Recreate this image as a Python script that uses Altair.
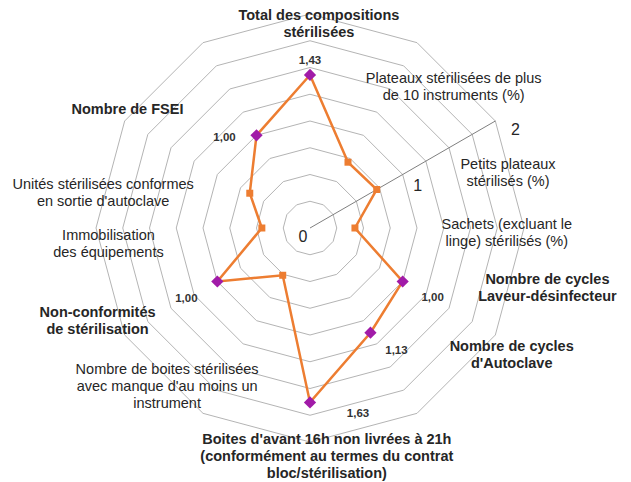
import math
import altair as alt
import pandas as pd

# ---------------- data ----------------
categories = [
    "Total des compositions\nstérilisées",
    "Plateaux stérilisées de plus\nde 10 instruments (%)",
    "Petits plateaux\nstérilisés (%)",
    "Sachets (excluant le\nlinge) stérilisés (%)",
    "Nombre de cycles\nLaveur-désinfecteur",
    "Nombre de cycles\nd'Autoclave",
    "Boites d'avant 16h non livrées à 21h\n(conformément au termes du contrat\nbloc/stérilisation)",
    "Nombre de boites stérilisées\navec manque d'au moins un\ninstrument",
    "Non-conformités\nde stérilisation",
    "Immobilisation\ndes équipements",
    "Unités stérilisées conformes\nen sortie d'autoclave",
    "Nombre de FSEI",
]
values = [1.43, 0.71, 0.72, 0.42, 1.00, 1.13, 1.63, 0.51, 1.00, 0.45, 0.65, 1.00]
highlighted = [True, False, False, False, True, True, True, False, True, False, False, True]
value_labels = ["1,43", "", "", "", "1,00", "1,13", "1,63", "", "1,00", "", "", "1,00"]
grid_levels = [0.25, 0.5, 0.75, 1.0, 1.25, 1.5, 1.75, 2.0]
tick_values = [0, 1, 2]
tick_labels = ["0", "1", "2"]

# ---------------- layout ----------------
W, H = 615, 474
CX, CY = 302, 220          # centre of the radar in chart pixels
PX = 107.0                 # pixels per unit
AXIS_ANGLE = 60            # direction of the drawn value axis (deg, clockwise from top)
LINE_H = 17
label_r = [1.90, 1.88, 1.92, 1.84, 2.29, 2.23, 2.15, 2.00, 2.17, 1.89, 1.96, 2.03]
label_angle = [2.5, 45.6, 74.5, 91.5, 104.3, 122.3, 175.8, 221.9, 246.2, 265.3, 279.5, 302.8]
vlabel_dx = [0, 0, 0, 0, 30, 26, 48, 0, -31, 0, 0, -32]
vlabel_dy = [-14, 0, 0, 0, 16, 18, 12, 0, 17, 0, 0, 3]
tick_dx = [-7, 15, 20]
tick_dy = [9, 11, 9]

ORANGE = "#ED7D31"
PURPLE = "#A11BA8"
GRID = "#B4B4B4"
AXIS = "#7F7F7F"
TEXT = "#262626"
FONT = "Liberation Sans"

n = len(categories)
step = 360.0 / n


def pol(r, ang):
    a = math.radians(ang)
    return r * math.sin(a), r * math.cos(a)


xs = alt.Scale(domain=[-CX / PX, (W - CX) / PX], nice=False, zero=False)
ys = alt.Scale(domain=[-(H - CY) / PX, CY / PX], nice=False, zero=False)

# grid rings
rows = []
for L in grid_levels:
    for k in range(n + 1):
        x, y = pol(L, (k % n) * step)
        rows.append({"level": L, "k": k, "x": x, "y": y})
grid_df = pd.DataFrame(rows)
grid = alt.Chart(grid_df).mark_line(color=GRID, strokeWidth=1).encode(
    x=alt.X("x:Q", scale=xs, axis=None),
    y=alt.Y("y:Q", scale=ys, axis=None),
    detail="level:N",
    order="k:Q",
)

# value axis
ax_rows = []
for i, r in enumerate([0, max(grid_levels)]):
    x, y = pol(r, AXIS_ANGLE)
    ax_rows.append({"k": i, "x": x, "y": y})
axis_line = alt.Chart(pd.DataFrame(ax_rows)).mark_line(color=AXIS, strokeWidth=1).encode(
    x=alt.X("x:Q", scale=xs, axis=None),
    y=alt.Y("y:Q", scale=ys, axis=None),
    order="k:Q",
)

tick_rows = []
for v, t, dx, dy in zip(tick_values, tick_labels, tick_dx, tick_dy):
    x, y = pol(v, AXIS_ANGLE)
    tick_rows.append({"x": x + dx / PX, "y": y - dy / PX, "t": t})
ticks = alt.Chart(pd.DataFrame(tick_rows)).mark_text(
    font=FONT, fontSize=16, color=TEXT, align="center", baseline="middle"
).encode(
    x=alt.X("x:Q", scale=xs, axis=None),
    y=alt.Y("y:Q", scale=ys, axis=None),
    text="t:N",
)

# series
pts = []
for i, (c, v, h, vl) in enumerate(zip(categories, values, highlighted, value_labels)):
    x, y = pol(v, i * step)
    pts.append({
        "k": i, "cat": c, "value": v, "hl": h, "x": x, "y": y,
        "vl": vl, "lx": x + vlabel_dx[i] / PX, "ly": y - vlabel_dy[i] / PX,
    })
pts_df = pd.DataFrame(pts)
loop_df = pd.concat([pts_df, pts_df.iloc[[0]].assign(k=n)], ignore_index=True)

series_line = alt.Chart(loop_df).mark_line(color=ORANGE, strokeWidth=2.5).encode(
    x=alt.X("x:Q", scale=xs, axis=None),
    y=alt.Y("y:Q", scale=ys, axis=None),
    order="k:Q",
)
squares = alt.Chart(pts_df[~pts_df["hl"]]).mark_point(
    shape="square", filled=True, size=49, color=ORANGE, opacity=1
).encode(
    x=alt.X("x:Q", scale=xs, axis=None),
    y=alt.Y("y:Q", scale=ys, axis=None),
)
diamonds = alt.Chart(pts_df[pts_df["hl"]]).mark_point(
    shape="diamond", filled=True, size=150, color=PURPLE, opacity=1
).encode(
    x=alt.X("x:Q", scale=xs, axis=None),
    y=alt.Y("y:Q", scale=ys, axis=None),
)
vlabels = alt.Chart(pts_df[pts_df["hl"]]).mark_text(
    font=FONT, fontSize=11.5, fontWeight="bold", color="#333333", align="center", baseline="middle"
).encode(
    x=alt.X("lx:Q", scale=xs, axis=None),
    y=alt.Y("ly:Q", scale=ys, axis=None),
    text="vl:N",
)

# category labels (anchor = first line; shift so the block is centred)
lab_rows = []
for i, c in enumerate(categories):
    x, y = pol(label_r[i], label_angle[i])
    nl = c.count("\n")
    lab_rows.append({"cat": c, "x": x, "y": y + nl * LINE_H / 2 / PX, "hl": highlighted[i]})
lab_df = pd.DataFrame(lab_rows)
lab_bold = alt.Chart(lab_df[lab_df["hl"]]).mark_text(
    font=FONT, fontSize=14.5, fontWeight="bold", color=TEXT, align="center",
    baseline="middle", lineBreak="\n", lineHeight=LINE_H
).encode(
    x=alt.X("x:Q", scale=xs, axis=None),
    y=alt.Y("y:Q", scale=ys, axis=None),
    text="cat:N",
)
lab_norm = alt.Chart(lab_df[~lab_df["hl"]]).mark_text(
    font=FONT, fontSize=14.5, color=TEXT, align="center",
    baseline="middle", lineBreak="\n", lineHeight=LINE_H
).encode(
    x=alt.X("x:Q", scale=xs, axis=None),
    y=alt.Y("y:Q", scale=ys, axis=None),
    text="cat:N",
)

chart = alt.layer(
    grid, axis_line, ticks, series_line, squares, diamonds, vlabels, lab_norm, lab_bold
).properties(
    width=W, height=H, padding=0, autosize=alt.AutoSizeParams(type="none")
).configure_view(stroke=None)

chart.save("out.html", embed_options={"renderer": "svg", "actions": False})
